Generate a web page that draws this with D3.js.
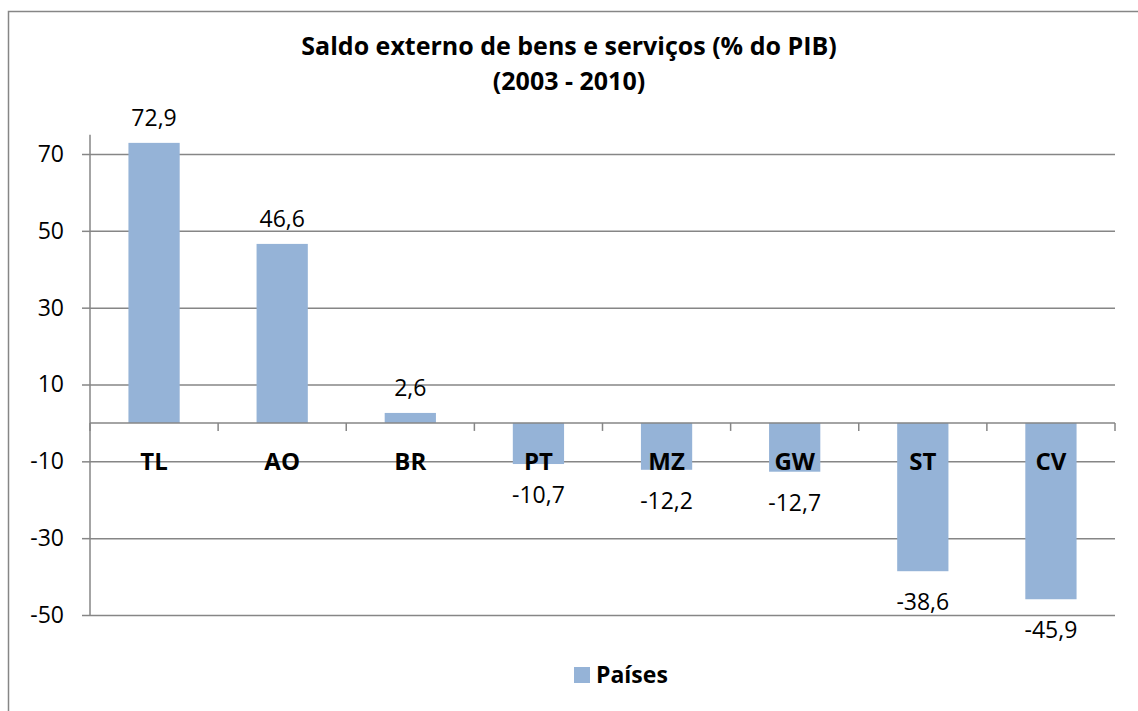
<!DOCTYPE html>
<html>
<head>
<meta charset="utf-8">
<script src="https://cdn.jsdelivr.net/npm/d3@7"></script>
<style>
  html, body { margin: 0; padding: 0; background: #fff; }
  text { font-family: 'Open Sans', 'Noto Sans', sans-serif; fill: #000; }
</style>
</head>
<body>
<div id="chart"></div>
<script>
const countries = ['TL', 'AO', 'BR', 'PT', 'MZ', 'GW', 'ST', 'CV'];
const saldo = [72.9, 46.6, 2.6, -10.7, -12.2, -12.7, -38.6, -45.9];
const yTicks = [-50, -30, -10, 10, 30, 50, 70];
const titleLines = ['Saldo externo de bens e serviços (% do PIB)', '(2003 - 2010)'];
const seriesName = 'Países';

const width = 1138;
const height = 711;
const barColor = '#95b3d7';
const lineColor = '#868686';

const svg = d3.select('#chart')
  .append('svg')
  .attr('width', width)
  .attr('height', height);

// chart area border (right/bottom edges fall outside the picture)
svg.append('rect')
  .attr('x', 8.5)
  .attr('y', 11.5)
  .attr('width', 1150)
  .attr('height', 730)
  .attr('fill', '#fff')
  .attr('stroke', lineColor)
  .attr('stroke-width', 1.5);

const x = d3.scaleBand()
  .domain(countries)
  .range([90, 1115])
  .paddingInner(0.6)
  .paddingOuter(0.3);

const y = d3.scaleLinear()
  .domain([-50, 75])
  .range([615, 134.8]);

// title
svg.append('text')
  .attr('text-anchor', 'middle')
  .attr('font-weight', 'bold')
  .attr('font-size', 25)
  .selectAll('tspan')
  .data(titleLines)
  .join('tspan')
  .attr('x', 569)
  .attr('y', (d, i) => 55 + i * 35)
  .text((d) => d);

// gridlines + y axis
svg.append('g')
  .attr('transform', 'translate(90,0)')
  .call(d3.axisLeft(y).tickValues(yTicks).tickSize(8).tickPadding(18).tickFormat((d) => String(d)))
  .call((g) => g.select('.domain').attr('stroke', lineColor).attr('stroke-width', 1.5)
    .attr('d', `M0,${y(75)}V${y(-50)}`))
  .call((g) => g.selectAll('.tick line').attr('stroke', lineColor).attr('stroke-width', 1.5))
  .call((g) => g.selectAll('.tick line').clone()
    .attr('x1', 0)
    .attr('x2', 1115 - 90))
  .call((g) => g.selectAll('.tick text')
    .attr('font-size', 23)
    .attr('font-family', "'Open Sans', 'Noto Sans', sans-serif")
    .attr('fill', '#000'));

// bars
svg.append('g')
  .selectAll('rect')
  .data(countries)
  .join('rect')
  .attr('x', (d) => x(d))
  .attr('width', x.bandwidth())
  .attr('y', (d, i) => y(Math.max(0, saldo[i])))
  .attr('height', (d, i) => Math.abs(y(saldo[i]) - y(0)))
  .attr('fill', barColor);

// category axis on the zero line
const step = x.step();
const xAxis = svg.append('g');
xAxis.append('line')
  .attr('x1', 90).attr('x2', 1115)
  .attr('y1', y(0)).attr('y2', y(0))
  .attr('stroke', lineColor).attr('stroke-width', 1.5);
xAxis.selectAll('.ctick')
  .data(d3.range(countries.length + 1))
  .join('line')
  .attr('class', 'ctick')
  .attr('x1', (k) => 90 + k * step).attr('x2', (k) => 90 + k * step)
  .attr('y1', y(0)).attr('y2', y(0) + 8)
  .attr('stroke', lineColor).attr('stroke-width', 1.5);
xAxis.selectAll('text')
  .data(countries)
  .join('text')
  .attr('x', (d) => x(d) + x.bandwidth() / 2)
  .attr('y', y(0) + 47)
  .attr('text-anchor', 'middle')
  .attr('font-weight', 'bold')
  .attr('font-size', 24)
  .text((d) => d);

// value labels
const fmt = (v) => v.toFixed(1).replace('.', ',');
svg.append('g')
  .selectAll('text')
  .data(countries)
  .join('text')
  .attr('x', (d) => x(d) + x.bandwidth() / 2)
  .attr('y', (d, i) => saldo[i] >= 0 ? y(saldo[i]) - 17 : y(saldo[i]) + 39)
  .attr('text-anchor', 'middle')
  .attr('font-size', 23)
  .text((d, i) => fmt(saldo[i]));

// legend
const legend = svg.append('g');
legend.append('rect')
  .attr('x', 574).attr('y', 667)
  .attr('width', 16).attr('height', 16)
  .attr('fill', barColor);
legend.append('text')
  .attr('x', 596).attr('y', 683)
  .attr('font-weight', 'bold')
  .attr('font-size', 23)
  .text(seriesName);
</script>
</body>
</html>
